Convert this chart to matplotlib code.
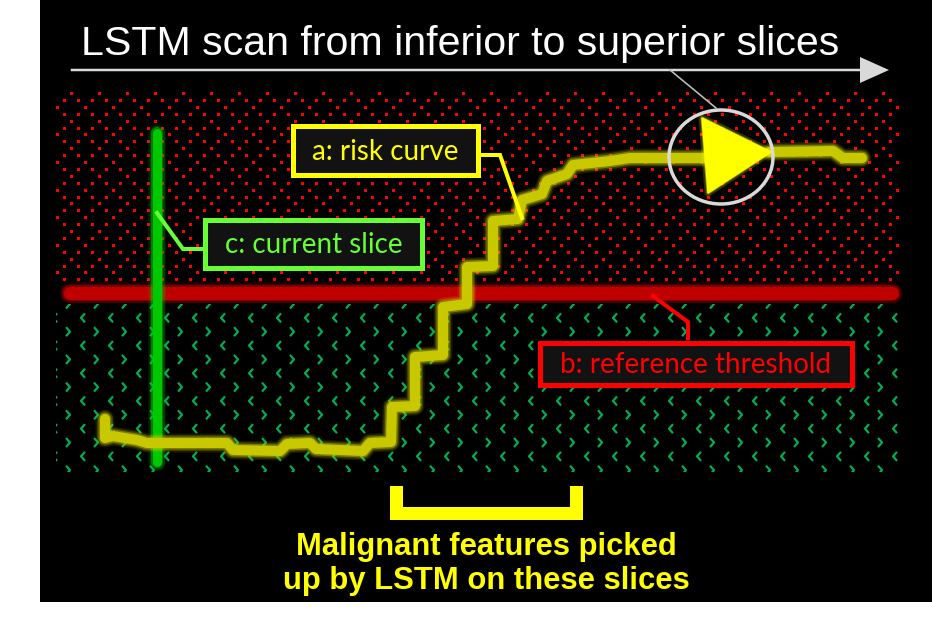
import numpy as np
import matplotlib as mpl
mpl.use("Agg")
import matplotlib.pyplot as plt
from matplotlib.patches import Rectangle, Polygon, Ellipse
from matplotlib.collections import LineCollection

# geometry is in picture pixels (x to the right, y downwards)
risk_x = [105, 105, 113, 137, 147, 227, 233, 280, 287, 310, 316, 363, 370, 391,
          392, 415, 415, 443, 443, 467, 467, 493, 493, 518, 522, 542, 547, 567,
          573, 610, 630, 683, 703]
risk_y = [419, 438, 436, 440, 443, 443, 450, 451, 444, 443, 449, 451, 443, 442,
          407, 406, 357, 355, 307, 304, 267, 266, 221, 219, 200, 194, 181, 174,
          165, 161, 158, 158, 158]
tail_x = [770, 833, 843, 862]
tail_y = [152, 151, 158, 158]
arrow_head = [(702, 118), (708, 193), (771, 152)]

threshold_y = 293
threshold_span = (70, 892)
slice_x = 157
slice_span = (133, 462)

title = "LSTM scan from inferior to superior slices"
note_lines = ["Malignant features picked", "up by LSTM on these slices"]
note_base = [555, 589]
labels = ["a: risk curve", "c: current slice", "b: reference threshold"]
label_colors = ["#ffff00", "#66ff33", "#ff0000"]
label_boxes = [(293, 126, 478, 175), (205, 220, 422, 268), (540, 343, 852, 385)]
leaders = [[(478, 155), (500, 155), (522, 218)],
           [(205, 249), (183, 249), (157, 213)],
           [(688, 338), (688, 322), (653, 296)]]
bracket = (390, 583, 486, 520)

W, H = 932, 618
fig = plt.figure(figsize=(W / 100, H / 100), dpi=100, facecolor="white")
ax = fig.add_axes([0, 0, 1, 1])
ax.set_xlim(0, W)
ax.set_ylim(H, 0)
ax.axis("off")
px = 0.72  # points per pixel at 100 dpi

ax.add_patch(Rectangle((40, 0), W - 40, 602, facecolor="black", edgecolor="none", zorder=0))

# red dotted texture (upper zone)
dx, dy = [], []
for r, y in enumerate(np.arange(93, 286, 6.9)):
    if r % 2:
        xs = np.arange(64, 898, 14)
    else:
        xs = np.arange(71 if r % 4 == 0 else 57, 898, 28)
    dx.extend(xs)
    dy.extend([y] * len(xs))
ax.scatter(dx, dy, s=(3 * px) ** 2, marker="s", color="#ff0000", linewidths=0, zorder=1)

# green chevron texture (lower zone)
segs = []
for k, y in enumerate(np.arange(304, 480, 13.85)):
    left = k % 2 == 1
    x0 = 83 if left else 68
    x0 = x0 - 28 if x0 - 28 > 40 else x0
    for x in np.arange(x0, 910, 28):
        s = -1 if left else 1
        segs.append([(x - 2 * s, y - 4.5), (x + 2 * s, y), (x - 2 * s, y + 4.5)])
chev = LineCollection(segs, colors="#00b050", linewidths=2.2 * px, zorder=1)
ax.add_collection(chev)
clip = Rectangle((56, 304), 842, 168, transform=ax.transData, facecolor="none", edgecolor="none")
ax.add_patch(clip)
chev.set_clip_path(clip)


def glow(xs, ys, color, width, z):
    for extra, a in [(9, 0.12), (6, 0.22), (3, 0.45), (0, 1.0)]:
        ax.plot(xs, ys, color=color, lw=(width + extra) * px, alpha=a,
                solid_capstyle="round", solid_joinstyle="round", zorder=z)


glow([threshold_span[0], threshold_span[1]], [threshold_y, threshold_y], "#c00000", 13, 2)
glow([slice_x, slice_x], list(slice_span), "#00c800", 9, 3)
glow(risk_x, risk_y, "#c8c800", 10, 4)
glow(tail_x, tail_y, "#c8c800", 10, 4)
for extra, a in [(7, 0.2), (3, 0.45)]:
    ax.add_patch(Polygon(arrow_head, closed=True, facecolor="none", edgecolor="#ffff00",
                         lw=extra * px, alpha=a, joinstyle="round", zorder=5))
ax.add_patch(Polygon(arrow_head, closed=True, facecolor="#ffff00", edgecolor="#ffff00",
                     lw=1, zorder=5))

# scan direction arrow and highlight ring
ax.plot([72, 862], [70, 70], color="#d9d9d9", lw=2.5 * px, zorder=3)
ax.add_patch(Polygon([(860, 57), (889, 70), (860, 83)], closed=True, facecolor="#d9d9d9",
                     edgecolor="none", zorder=3))
ax.plot([670, 716], [70, 108], color="#bfbfbf", lw=1.6 * px, zorder=3)
ax.add_patch(Ellipse((721, 157), 104, 94, facecolor="none", edgecolor="#d9d9d9",
                     lw=3.5 * px, zorder=6))

ax.text(81, 55, title, color="white", fontsize=29.6, family="Liberation Sans",
        ha="left", va="baseline", zorder=6)

# labels with leader lines
for text, c, (x0, y0, x1, y1), lead in zip(labels, label_colors, label_boxes, leaders):
    ax.add_patch(Rectangle((x0, y0), x1 - x0, y1 - y0, facecolor="#121212", edgecolor=c,
                           lw=5 * px, zorder=7))
    ax.text((x0 + x1) / 2, (y0 + y1) / 2 + 1, text, color=c, fontsize=20, family="Lato",
            ha="center", va="center", zorder=8)
    lx, ly = zip(*lead)
    ax.plot(lx, ly, color=c, lw=4 * px, solid_joinstyle="miter", zorder=6)

# bracket under the malignant slices
bx0, bx1, by0, by1 = bracket
t = 13
ax.add_patch(Polygon([(bx0, by0), (bx0 + t, by0), (bx0 + t, by1 - t), (bx1 - t, by1 - t),
                      (bx1 - t, by0), (bx1, by0), (bx1, by1), (bx0, by1)], closed=True,
                     facecolor="#ffff00", edgecolor="none", zorder=6))
for line, yb in zip(note_lines, note_base):
    ax.text(486, yb, line, color="#ffff00", fontsize=22.3, fontweight="bold",
            family="Liberation Sans", ha="center", va="baseline", zorder=6)

fig.savefig("out.png", dpi=100, facecolor="white")
